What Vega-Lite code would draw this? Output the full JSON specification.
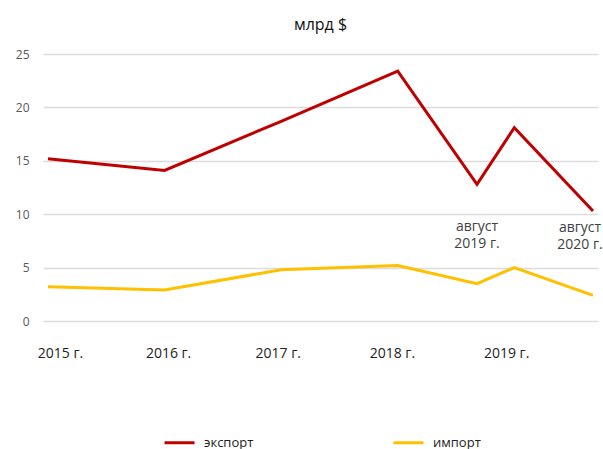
{
  "$schema": "https://vega.github.io/schema/vega-lite/v6.json",
  "autosize": "none",
  "padding": {"left": 43, "top": 54, "right": 5, "bottom": 128},
  "width": 555,
  "height": 267,
  "title": {"text": "млрд $", "anchor": "middle", "fontSize": 16, "fontWeight": "normal", "font": "Open Sans", "color": "#111", "offset": 15},
  "config": {
    "view": {"stroke": null},
    "font": "Open Sans"
  },
  "data": {
    "values": [
      {"t": 0, "period": "2015 г.", "series": "экспорт", "value": 15.2},
      {"t": 1, "period": "2016 г.", "series": "экспорт", "value": 14.1},
      {"t": 2, "period": "2017 г.", "series": "экспорт", "value": 18.7},
      {"t": 3, "period": "2018 г.", "series": "экспорт", "value": 23.4},
      {"t": 3.68, "period": "август 2019 г.", "series": "экспорт", "value": 12.8},
      {"t": 4, "period": "2019 г.", "series": "экспорт", "value": 18.1},
      {"t": 4.675, "period": "август 2020 г.", "series": "экспорт", "value": 10.3},
      {"t": 0, "period": "2015 г.", "series": "импорт", "value": 3.2},
      {"t": 1, "period": "2016 г.", "series": "импорт", "value": 2.9},
      {"t": 2, "period": "2017 г.", "series": "импорт", "value": 4.8},
      {"t": 3, "period": "2018 г.", "series": "импорт", "value": 5.2},
      {"t": 3.68, "period": "август 2019 г.", "series": "импорт", "value": 3.5},
      {"t": 4, "period": "2019 г.", "series": "импорт", "value": 5.0},
      {"t": 4.675, "period": "август 2020 г.", "series": "импорт", "value": 2.4}
    ]
  },
  "encoding": {
    "x": {
      "field": "t", "type": "quantitative",
      "scale": {"domain": [-0.043, 4.718], "nice": false, "zero": false},
      "axis": {
        "title": null, "grid": false, "domain": false, "ticks": false,
        "values": [0.103, 1.03, 1.97, 2.95, 3.93],
        "labelExpr": "round(datum.value) + 2015 + ' г.'",
        "labelFontSize": 14, "labelColor": "#222", "labelPadding": 25
      }
    },
    "y": {
      "field": "value", "type": "quantitative",
      "scale": {"domain": [0, 25], "nice": false},
      "axis": {
        "title": null, "domain": false, "ticks": false,
        "values": [0, 5, 10, 15, 20, 25],
        "gridColor": "#dcdcdc", "gridWidth": 1.5,
        "labelFontSize": 12, "labelColor": "#595959", "labelPadding": 14
      }
    }
  },
  "layer": [
    {
      "mark": {"type": "line", "strokeWidth": 3},
      "encoding": {
        "color": {
          "field": "series", "type": "nominal",
          "scale": {"domain": ["экспорт", "импорт"], "range": ["#c00000", "#ffc000"]},
          "sort": ["экспорт", "импорт"],
          "legend": {
            "title": null, "orient": "none", "direction": "horizontal",
            "legendX": 120, "legendY": 372,
            "symbolType": "stroke", "symbolSize": 900, "symbolStrokeWidth": 3,
            "labelFontSize": 13, "labelColor": "#222", "labelOffset": 8,
            "columnPadding": 133
          }
        }
      }
    },
    {
      "transform": [{"filter": "datum.series == 'экспорт' && datum.period == 'август 2019 г.'"}],
      "mark": {"type": "text", "baseline": "top", "align": "center", "fontSize": 14, "color": "#404040", "dy": 36, "lineHeight": 17},
      "encoding": {"text": {"value": ["август", "2019 г."]}}
    },
    {
      "transform": [{"filter": "datum.series == 'экспорт' && datum.period == 'август 2020 г.'"}],
      "mark": {"type": "text", "baseline": "top", "align": "center", "fontSize": 14, "color": "#404040", "dy": 10, "dx": -13, "lineHeight": 17},
      "encoding": {"text": {"value": ["август", "2020 г."]}}
    }
  ]
}
